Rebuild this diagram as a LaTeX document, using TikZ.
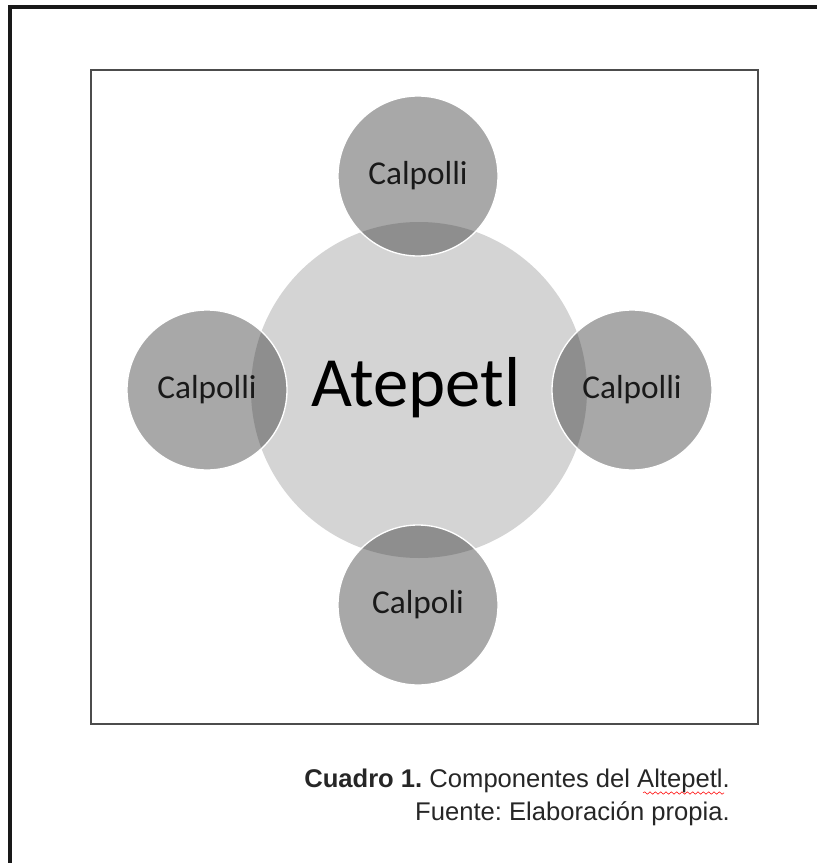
\documentclass[tikz,border=0pt]{standalone}
\usepackage{fontspec}
\setmainfont{Liberation Sans}
\newfontfamily\calibrifont{Carlito}
\usetikzlibrary{decorations.pathmorphing}
\definecolor{bigfill}{RGB}{212,212,212}
\definecolor{smallfill}{RGB}{168,168,168}
\definecolor{overfill}{RGB}{142,142,142}
\tikzset{
  calpolli/.style={font=\calibrifont\fontsize{25}{30}\selectfont,text=black!90},
  caption/.style={anchor=base east,font=\fontsize{19.2}{23}\selectfont,text=black!85,inner sep=0pt}
}
\frenchspacing
\begin{document}
\begin{tikzpicture}[x=0.75pt,y=-0.75pt]
   \useasboundingbox (0,0) rectangle (817,863);
   \draw[line width=2.4pt,black!90](10,863) -- (10,7) -- (817,7);
   \draw[line width=1.3pt,black!70](91,70) rectangle (758,724);
   \coordinate (alt) at (419,390);
   \coordinate (cn) at (418,176);
   \coordinate (ce) at (632,390);
   \coordinate (cs) at (418,605);
   \coordinate (cw) at (207,390);
   \fill[bigfill] (alt) circle (168);
   \foreach \c in {cn,ce,cs,cw}
     \fill[smallfill] (\c) circle (80);
   \begin{scope}
     \clip (alt) circle (168);
     \foreach \c in {cn,ce,cs,cw}
       \fill[overfill] (\c) circle (80);
   \end{scope}
   \foreach \c in {cn,ce,cs,cw}
     \draw[white,line width=1pt] (\c) circle (80);
   \node[font=\calibrifont\fontsize{53}{60}\selectfont,text=black] (atepetl) at (416,388) {Atepetl};
   \node[calpolli] (north) at (cn) {Calpolli};
   \node[calpolli] (east) at (ce) {Calpolli};
   \node[calpolli] (south) at (cs) {Calpoli};
   \node[calpolli] (west) at (cw) {Calpolli};
   \node[caption] (cap1) at (730,787) {\textbf{Cuadro 1.} Componentes del Altepetl.};
   \node[caption] (cap2) at (730,820) {Fuente: Elaboración propia.};
   \draw[red,line width=0.4pt,decorate,decoration={snake,amplitude=0.9,segment length=4}] (643,793) -- (724,793);
 \end{tikzpicture}
\end{document}
